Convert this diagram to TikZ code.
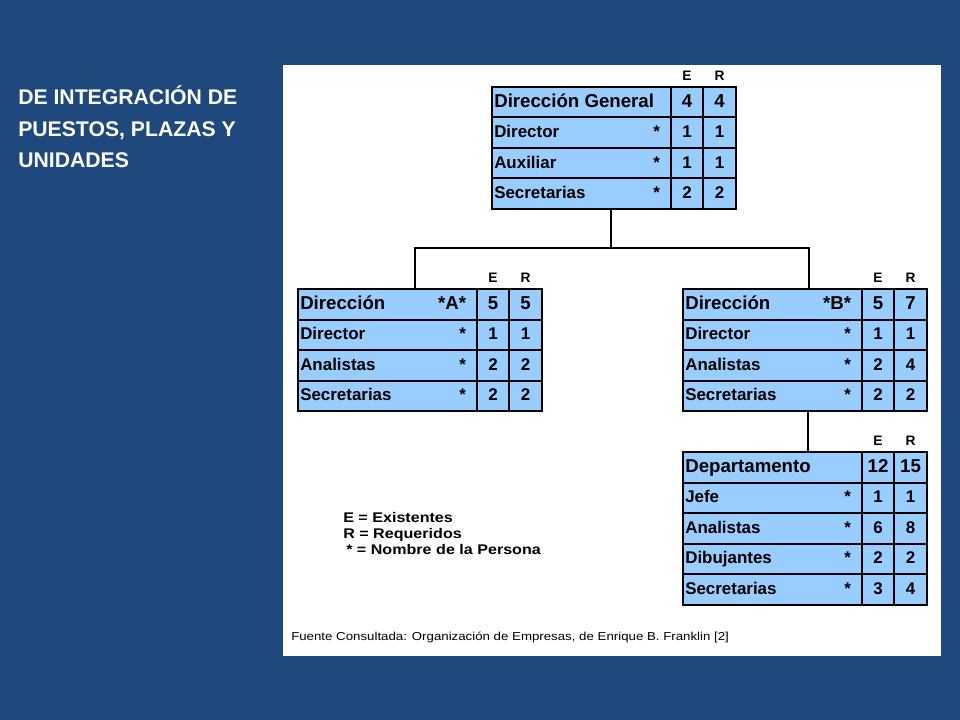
\documentclass[tikz,border=0pt]{standalone}
\usepackage{fontspec}
\setmainfont{Liberation Sans}
\newfontfamily\legfont[FakeStretch=1.15]{Liberation Sans}
\definecolor{bgblue}{RGB}{31,73,125}
\definecolor{cellblue}{RGB}{153,204,255}
\newcommand\hdrf{\fontsize{14pt}{16pt}\selectfont\bfseries}
\newcommand\rowf{\fontsize{12.7pt}{14pt}\selectfont\bfseries}
\newcommand\trow[8]{%
  \node[cell, minimum width={179*0.75pt}] (#1n) at (#2,#3) {};
  \node[cell, minimum width={32*0.75pt}] (#1e) at (#1n.north east) {};
  \node[cell, minimum width={33*0.75pt}] (#1r) at (#1e.north east) {};
  \node[rowtext, anchor=west] (#1l) at ([xshift=1.5pt]#1n.west) {#8#4};
  \node[rowtext, anchor=east] (#1s) at ([xshift=-8pt]#1n.east) {#8#5};
  \node[rowtext] (#1x) at (#1e.center) {#8#6};
  \node[rowtext] (#1y) at (#1r.center) {#8#7};
}
\tikzset{
  cell/.style={draw=black, line width=1.5pt, fill=cellblue, inner sep=0pt, outer sep=0pt, anchor=north west, minimum height={30.5*0.75pt}},
  rowtext/.style={inner sep=0pt, text height=0.72em, text depth=0pt, text=black},
  erlbl/.style={inner sep=0pt, text height=0.72em, text depth=0pt, font=\fontsize{10.3pt}{12pt}\selectfont\bfseries},
  conn/.style={draw=black, line width=1.5pt},
  title/.style={inner sep=0pt, anchor=west, text=white, text height=0.72em, text depth=0pt, font=\fontsize{15.9pt}{18pt}\selectfont\bfseries},
  legend/.style={inner sep=0pt, anchor=west, text height=0.72em, text depth=0pt, font=\legfont\fontsize{10.5pt}{12pt}\selectfont\bfseries},
}
\begin{document}
\begin{tikzpicture}[x=0.75pt,y=-0.75pt]
\fill[bgblue] (0,0) rectangle (960,720);
\useasboundingbox (0,0) rectangle (960,720);
\fill[white] (283,65) rectangle (941,656);
% title
\node[title] (t1) at (18,100) {DE INTEGRACIÓN DE};
\node[title] (t2) at (18,132) {PUESTOS, PLAZAS Y};
\node[title] (t3) at (18,163) {UNIDADES};
% top box
\trow{ga}{492}{87}{Dirección General}{}{4}{4}{\hdrf}
\trow{gb}{492}{117.5}{Director}{*}{1}{1}{\rowf}
\trow{gc}{492}{148}{Auxiliar}{*}{1}{1}{\rowf}
\trow{gd}{492}{178.5}{Secretarias}{*}{2}{2}{\rowf}
\node[erlbl] (gE) at ([yshift=8.5pt]gae.north) {E};
\node[erlbl] (gR) at ([yshift=8.5pt]gar.north) {R};
% left box
\trow{aa}{298}{289}{Dirección}{*A*}{5}{5}{\hdrf}
\trow{ab}{298}{319.5}{Director}{*}{1}{1}{\rowf}
\trow{ac}{298}{350}{Analistas}{*}{2}{2}{\rowf}
\trow{ad}{298}{380.5}{Secretarias}{*}{2}{2}{\rowf}
\node[erlbl] (aE) at ([yshift=8.5pt]aae.north) {E};
\node[erlbl] (aR) at ([yshift=8.5pt]aar.north) {R};
% right box
\trow{ba}{683}{289}{Dirección}{*B*}{5}{7}{\hdrf}
\trow{bb}{683}{319.5}{Director}{*}{1}{1}{\rowf}
\trow{bc}{683}{350}{Analistas}{*}{2}{4}{\rowf}
\trow{bd}{683}{380.5}{Secretarias}{*}{2}{2}{\rowf}
\node[erlbl] (bE) at ([yshift=8.5pt]bae.north) {E};
\node[erlbl] (bR) at ([yshift=8.5pt]bar.north) {R};
% department box
\trow{da}{683}{452}{Departamento}{}{12}{15}{\hdrf}
\trow{db}{683}{482.5}{Jefe}{*}{1}{1}{\rowf}
\trow{dc}{683}{513}{Analistas}{*}{6}{8}{\rowf}
\trow{dd}{683}{543.5}{Dibujantes}{*}{2}{2}{\rowf}
\trow{de}{683}{574}{Secretarias}{*}{3}{4}{\rowf}
\node[erlbl] (dE) at ([yshift=8.5pt]dae.north) {E};
\node[erlbl] (dR) at ([yshift=8.5pt]dar.north) {R};
% connectors
\coordinate (jt) at (611,248);
\coordinate (jl) at (415,248);
\coordinate (jr) at (809,248);
\coordinate (jd) at (808,420);
\draw[conn] (jt |- gdn.south) -- (jt);
\draw[conn] (jl |- aan.north) -- (jl) -- (jr) -- (jr |- ban.north);
\draw[conn] (jd |- bdn.south) -- (jd |- dan.north);
% legend
\node[legend] (l1) at (343,518) {E = Existentes};
\node[legend] (l2) at (343,534) {R = Requeridos};
\node[legend] (l3) at (346,550) {* = Nombre de la Persona};
% footer
\node[inner sep=0pt, anchor=west, text height=0.72em, text depth=0pt, font=\legfont\fontsize{8.65pt}{10pt}\selectfont] (src) at (291,636) {Fuente Consultada: Organización de Empresas, de Enrique B. Franklin [2]};
\end{tikzpicture}
\end{document}
